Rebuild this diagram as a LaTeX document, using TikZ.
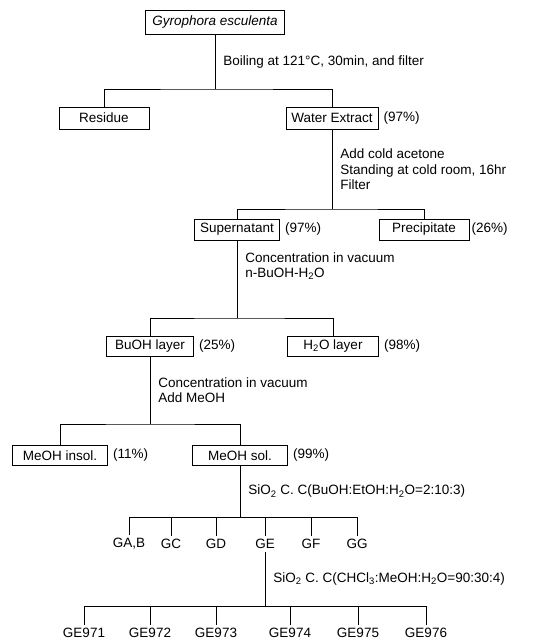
\documentclass[tikz,border=0pt]{standalone}
\usepackage{fontspec}
\setmainfont{Liberation Sans}
\usetikzlibrary{positioning}

\tikzset{
  box/.style={draw,line width=0.7pt,minimum width=#1,minimum height=21pt,inner sep=2pt},
  steplabel/.style={anchor=west,align=left,xshift=5pt,inner sep=3pt},
  pct/.style={inner sep=0pt},
  leaf/.style={inner sep=3pt},
}

\begin{document}
\begin{tikzpicture}[x=1pt,y=-1pt,line width=0.7pt,font=\fontsize{13.5}{15.5}\selectfont]
\useasboundingbox (0,0) rectangle (551,642);
% 原料与各级分离产物
\node[box=139pt,minimum height=24pt] (gyro) at (215,22) {\itshape Gyrophora esculenta};
\node[box=90pt,minimum height=22pt] (res) at (104,118) {Residue};
\node[box=92pt,minimum height=22pt] (wat) at (332,118) {Water Extract};
\node[box=85pt] (sup) at (237,229.5) {Supernatant};
\node[box=90pt] (pre) at (424,229.5) {Precipitate};
\node[box=87pt,minimum height=20pt] (buoh) at (150,346) {BuOH layer};
\node[box=91pt,minimum height=20pt] (water) at (333,346) {H\textsubscript{2}O layer};
\node[box=95pt,minimum height=20pt] (ins) at (60,455.5) {MeOH insol.};
\node[box=95pt,minimum height=20pt] (sol) at (240,455.5) {MeOH sol.};
% 得率
\node[pct,right=5pt of wat] {(97\%)};
\node[pct,right=5pt of sup] {(97\%)};
\node[pct,right=2pt of pre] {(26\%)};
\node[pct,right=5pt of buoh] {(25\%)};
\node[pct,right=5pt of water] {(98\%)};
\node[pct,right=5pt of ins] {(11\%)};
\node[pct,right=5pt of sol] {(99\%)};
% 分支点
\coordinate (j1) at (215,89);
\coordinate (j2) at (332,209);
\coordinate (j3) at (237,318);
\coordinate (j4) at (150,424);
\coordinate (j5) at (240,517);
\coordinate (j6) at (265,606);
% 各步处理
\draw (gyro.south) -- node[steplabel] {Boiling at 121°C, 30min, and filter} (j1);
\draw (res.north) |- (j1) -| (wat.north);
\draw (wat.south) -- node[steplabel] {Add cold acetone\\Standing at cold room, 16hr\\Filter} (j2);
\draw (sup.north) |- (j2) -| (pre.north);
\draw (sup.south) -- node[steplabel,pos=0.33] {Concentration in vacuum\\n-BuOH-H\textsubscript{2}O} (j3);
\draw (buoh.north) |- (j3) -| (water.north);
\draw (buoh.south) -- node[steplabel] {Concentration in vacuum\\Add MeOH} (j4);
\draw (ins.north) |- (j4) -| (sol.north);
\draw (sol.south) -- node[steplabel] {SiO\textsubscript{2} C. C(BuOH:EtOH:H\textsubscript{2}O=2:10:3)} (j5);
% 第一次柱层析组分
\foreach \n/\x/\t in {ga/129/{GA,B},gc/171/GC,gd/216/GD,ge/265/GE,gf/311/GF,gg/357/GG}
  \node[leaf] (\n) at (\x,544) {\t};
\draw (ga.north |- j5) -- (gg.north |- j5);
\foreach \n in {ga,gc,gd,ge,gf,gg}
  \draw (\n.north |- j5) -- (\n.north);
% 第二次柱层析组分
\draw (ge.south) -- node[steplabel] {SiO\textsubscript{2} C. C(CHCl\textsubscript{3}:MeOH:H\textsubscript{2}O=90:30:4)} (j6);
\foreach \n/\x in {1/84,2/150,3/216,4/290,5/358,6/426}
  \node[leaf] (f\n) at (\x,633) {GE97\n};
\draw (f1.north |- j6) -- (f6.north |- j6);
\foreach \n in {1,...,6}
  \draw (f\n.north |- j6) -- (f\n.north);
\end{tikzpicture}
\end{document}
